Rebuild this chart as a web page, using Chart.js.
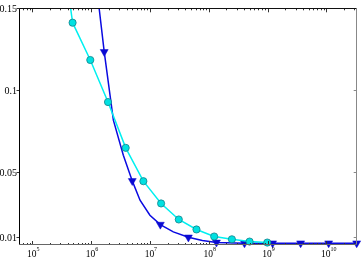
<!DOCTYPE html>
<html>
<head>
<meta charset="utf-8">
<script src="https://cdn.jsdelivr.net/npm/chart.js@4/dist/chart.umd.min.js"></script>
<style>
  html, body { margin: 0; padding: 0; background: #fff; }
</style>
</head>
<body>
<canvas id="graph" width="362" height="260"></canvas>
<script>
// cyan series (circles), x doubles each step
const cyanX = [6.05e4, 1.21e5, 2.42e5, 4.84e5, 9.68e5, 1.936e6, 3.872e6, 7.74e6, 1.549e7, 3.098e7, 6.195e7, 1.239e8, 2.478e8, 4.956e8, 9.91e8];
const cyanY = [0.52, 0.34, 0.22, 0.1412, 0.1184, 0.0927, 0.0647, 0.0443, 0.0307, 0.0209, 0.0148, 0.0105, 0.0088, 0.0074, 0.0068];

// blue series (triangles), line has extra points without markers
const blueX = [5.57e5, 1.671e6, 2.39e6, 3.53e6, 5.01e6, 6.79e6, 1.0e7, 1.504e7, 2.5e7, 4.51e7, 7.8e7, 1.354e8, 4.06e8, 1.22e9, 3.66e9, 1.097e10, 3.29e10];
const blueY = [0.27, 0.1234, 0.0816, 0.0602, 0.0445, 0.0327, 0.0235, 0.0178, 0.0133, 0.0100, 0.0081, 0.0069, 0.0064, 0.0064, 0.0064, 0.0064, 0.0064];
const blueMark = [1, 1, 0, 0, 1, 0, 0, 1, 0, 1, 0, 1, 1, 1, 1, 1, 1];

// axis ranges and tick labels
const xRange = [6.05e4, 3.29e10];
const yRange = [0.0053, 0.15];
const xTickExps = [5, 6, 7, 8, 9, 10];
const yTicks = [0.01, 0.05, 0.1, 0.15];
const yTickLabels = ['0.01', '0.05', '0.1', '0.15'];

const cyanData = cyanX.map((x, i) => ({ x: x, y: cyanY[i] }));
const blueData = blueX.map((x, i) => ({ x: x, y: blueY[i] }));

// matlab style box, ticks and labels
const axesPlugin = {
    id: 'matlabAxes',
    afterDatasetsDraw(chart) {
        const ctx = chart.ctx;
        const a = chart.chartArea;
        const xs = chart.scales.x;
        const ys = chart.scales.y;

        function seg(x1, y1, x2, y2, col) {
            ctx.strokeStyle = col;
            ctx.beginPath();
            ctx.moveTo(x1, y1);
            ctx.lineTo(x2, y2);
            ctx.stroke();
        }

        ctx.save();
        ctx.lineWidth = 1;

        // x ticks, major and minor, top and bottom
        for (let e = 4; e <= 10; e++) {
            for (let m = 1; m <= 9; m++) {
                const v = m * Math.pow(10, e);
                if (v < xs.min || v > xs.max) continue;
                const px = Math.round(xs.getPixelForValue(v)) + 0.5;
                const len = m === 1 ? 4 : 2;
                seg(px, a.bottom, px, a.bottom - len, '#333');
                seg(px, a.top, px, a.top + len, '#333');
            }
        }

        // y ticks
        yTicks.forEach(v => {
            const py = Math.round(ys.getPixelForValue(v)) + 0.5;
            seg(a.left - 3, py, a.left, py, '#333');
            seg(a.right - 3, py, a.right, py, '#888');
        });

        // box
        const l = Math.round(a.left) - 0.5, r = Math.round(a.right) - 0.5;
        const t = Math.round(a.top) + 0.5, b = Math.round(a.bottom) - 0.5;
        seg(l, t, r, t, '#111');
        seg(r, t, r, b, '#888');
        seg(l, b, r, b, '#666');
        seg(l, t, l, b, '#000');

        // labels
        ctx.fillStyle = '#000';
        ctx.font = '10px "Liberation Serif", serif';
        ctx.textAlign = 'right';
        ctx.textBaseline = 'middle';
        yTicks.forEach((v, i) => {
            ctx.fillText(yTickLabels[i], a.left - 2.5, ys.getPixelForValue(v) + 1);
        });

        ctx.textBaseline = 'alphabetic';
        xTickExps.forEach(e => {
            const px = xs.getPixelForValue(Math.pow(10, e));
            ctx.font = '9.5px "Liberation Serif", serif';
            ctx.textAlign = 'center';
            ctx.fillText('10', px - 0.5, 257);
            ctx.font = '6px "Liberation Serif", serif';
            ctx.textAlign = 'left';
            ctx.fillText(String(e), px + 4.2, 251);
        });

        ctx.restore();
    }
};

const ctx = document.getElementById('graph').getContext('2d');

const data = {
    datasets: [{
        label: 'cyan',
        data: cyanData,
        borderColor: 'rgb(0, 240, 240)',
        borderWidth: 1.5,
        pointStyle: 'circle',
        pointRadius: 3.6,
        pointBackgroundColor: 'rgb(0, 225, 225)',
        pointBorderColor: 'rgb(20, 130, 140)',
        pointBorderWidth: 0.8,
        fill: false,
        tension: 0,
        clip: { left: 6, right: 6, top: 0, bottom: 6 }
    },
    {
        label: 'blue',
        data: blueData,
        borderColor: 'rgb(10, 10, 225)',
        borderWidth: 1.5,
        pointStyle: 'triangle',
        rotation: 180,
        pointRadius: blueMark.map(m => m ? 4.6 : 0),
        pointBackgroundColor: 'rgb(10, 10, 210)',
        pointBorderColor: 'rgb(10, 10, 210)',
        pointBorderWidth: 0.5,
        fill: false,
        tension: 0,
        clip: { left: 6, right: 6, top: 0, bottom: 6 }
    }]
};

const options = {
    responsive: false,
    animation: false,
    events: [],
    layout: {
        padding: { left: 19.5, right: 5.3, top: 8.3, bottom: 15 }
    },
    scales: {
        x: {
            type: 'logarithmic',
            min: xRange[0],
            max: xRange[1],
            display: false
        },
        y: {
            type: 'linear',
            min: yRange[0],
            max: yRange[1],
            display: false
        }
    },
    plugins: {
        legend: { display: false },
        tooltip: { enabled: false }
    }
};

window.myChart = new Chart(ctx, {
    type: 'line',
    data: data,
    options: options,
    plugins: [axesPlugin]
});
</script>
</body>
</html>
